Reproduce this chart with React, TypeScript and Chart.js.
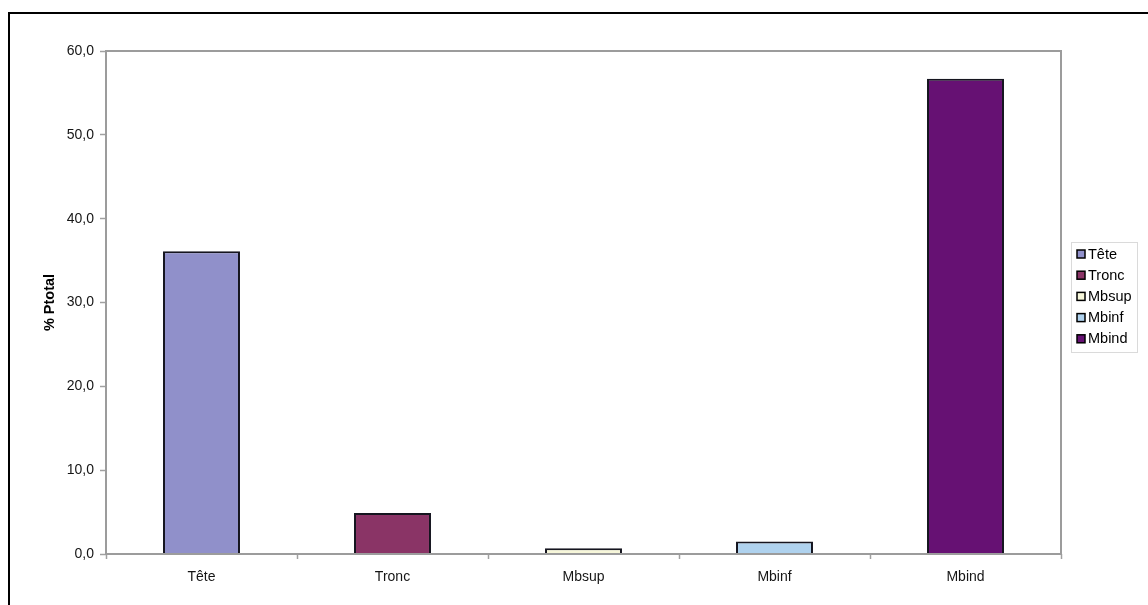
import React, { useEffect, useRef } from "react";
import { Chart, registerables } from "chart.js";

Chart.register(...registerables);

const categories = ["Tête", "Tronc", "Mbsup", "Mbinf", "Mbind"];
const values = [36.1, 4.9, 0.7, 1.5, 56.7];
const colors = ["#9090CA", "#8A3466", "#F7F7DA", "#AFD2EE", "#661173"];
const yTicks = [0, 10, 20, 30, 40, 50, 60];
const yTitle = "% Ptotal";

const FONT = "'Liberation Sans', Arial, sans-serif";

const framePlugin = {
  id: "frame",
  afterDatasetsDraw(chart: any) {
    const { ctx, chartArea: a } = chart;
    ctx.save();
    ctx.strokeStyle = "#9c9c9c";
    ctx.lineWidth = 2;
    ctx.strokeRect(a.left, a.top, a.right - a.left, a.bottom - a.top);
    ctx.restore();
  },
  afterDraw(chart: any) {
    const { ctx } = chart;
    ctx.save();
    // outer black frame
    ctx.strokeStyle = "#000";
    ctx.lineWidth = 2;
    ctx.strokeRect(9, 13, 1200, 700);
    // legend
    const lx = 1071.5, ly = 242.5, lw = 66, lh = 110;
    ctx.strokeStyle = "#dadada";
    ctx.lineWidth = 1;
    ctx.strokeRect(lx, ly, lw, lh);
    ctx.font = `14.5px ${FONT}`;
    ctx.textBaseline = "middle";
    ctx.textAlign = "left";
    categories.forEach((c, i) => {
      const cy = 254 + i * 21.2;
      ctx.fillStyle = colors[i];
      ctx.fillRect(1077, cy - 4, 8, 8);
      ctx.strokeStyle = "#000";
      ctx.lineWidth = 1.5;
      ctx.strokeRect(1077, cy - 4, 8, 8);
      ctx.fillStyle = "#000";
      ctx.fillText(c, 1088, cy + 0.5);
    });
    ctx.restore();
  },
};

export default function App() {
  const ref = useRef<HTMLCanvasElement | null>(null);
  useEffect(() => {
    document.body.style.margin = "0";
    if (!ref.current) return;
    const chart = new Chart(ref.current, {
      type: "bar",
      data: {
        labels: categories,
        datasets: [
          {
            label: yTitle,
            data: values,
            backgroundColor: colors,
            borderColor: "#15151f",
            borderWidth: 2,
            barPercentage: 0.403,
            categoryPercentage: 1,
          },
        ],
      },
      options: {
        responsive: false,
        animation: false,
        layout: { padding: { left: 0, top: 51, right: 87, bottom: 0 } },
        plugins: { legend: { display: false }, tooltip: { enabled: false } },
        scales: {
          x: {
            afterFit: (s: any) => {
              s.height = 51;
            },
            border: { display: false },
            grid: {
              drawOnChartArea: false,
              drawTicks: true,
              tickLength: 5,
              tickColor: "#a0a0a0",
              tickWidth: 1.5,
              offset: true,
            },
            ticks: {
              color: "#151515",
              padding: 10,
              font: { family: FONT, size: 14 },
            },
          },
          y: {
            min: 0,
            max: 60,
            afterFit: (s: any) => {
              s.width = 106;
            },
            afterBuildTicks: (s: any) => {
              s.ticks = yTicks.map((v) => ({ value: v }));
            },
            border: { display: false },
            grid: {
              drawOnChartArea: false,
              drawTicks: true,
              tickLength: 6,
              tickColor: "#a0a0a0",
              tickWidth: 1.5,
            },
            ticks: {
              color: "#151515",
              padding: 6,
              font: { family: FONT, size: 14 },
              callback: (v: any) => Number(v).toFixed(1).replace(".", ","),
            },
            title: {
              display: true,
              text: yTitle,
              color: "#000",
              padding: { top: 41, bottom: 0 },
              font: { family: FONT, size: 14.5, weight: "bold" },
            },
          },
        },
      },
      plugins: [framePlugin],
    });
    return () => chart.destroy();
  }, []);
  return (
    <div style={{ width: 1148, height: 605, background: "#fff" }}>
      <canvas ref={ref} width={1148} height={605} />
    </div>
  );
}
